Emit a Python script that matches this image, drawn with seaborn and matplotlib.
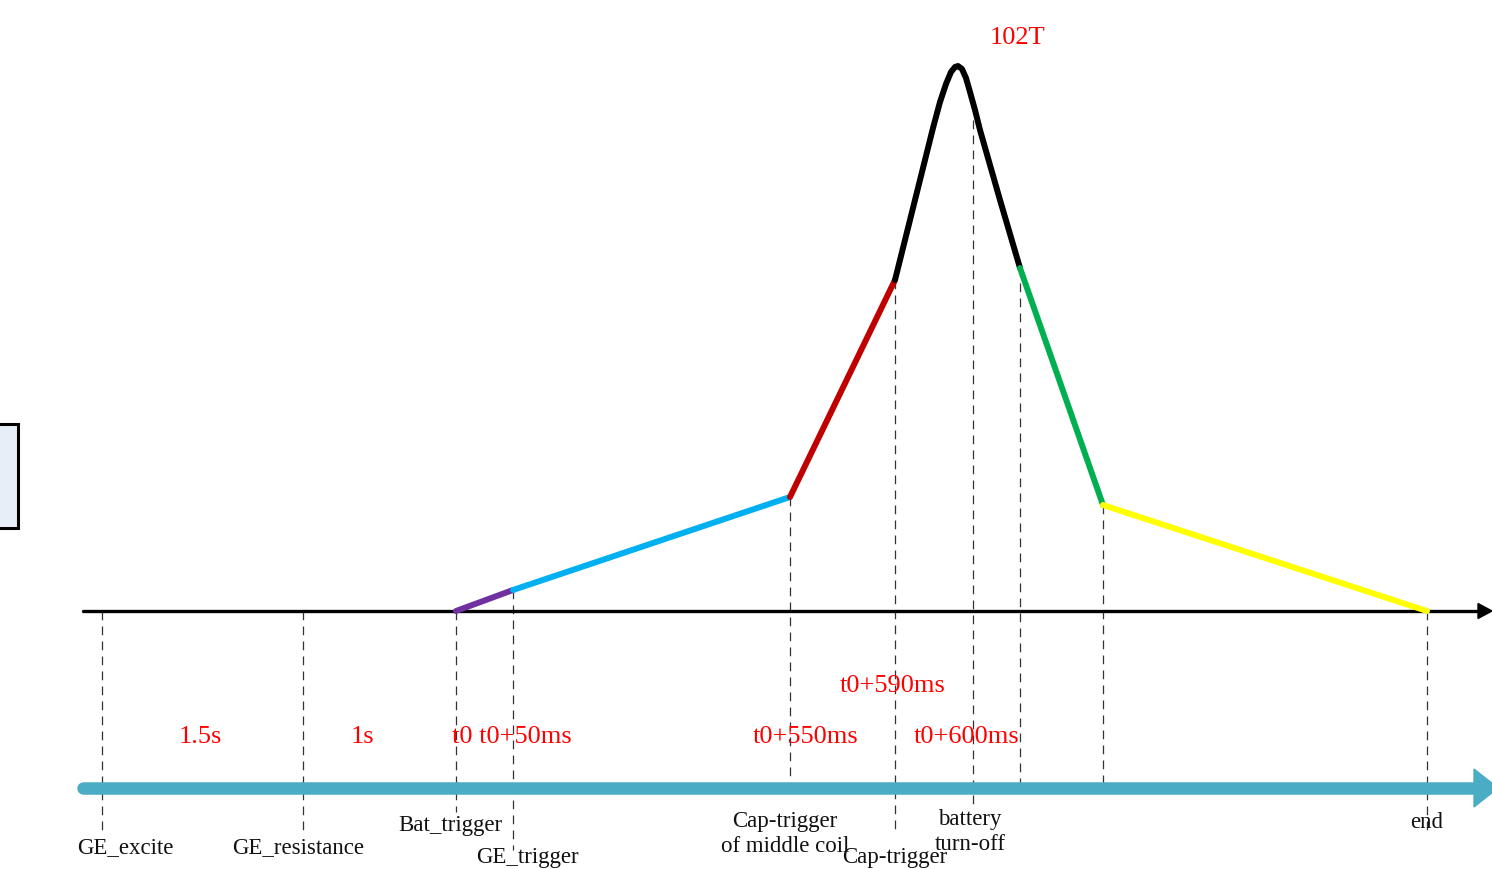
import numpy as np
import pandas as pd
import matplotlib.pyplot as plt
import seaborn as sns
from matplotlib.patches import FancyArrow, Rectangle

# schematic coordinates (canvas units, y grows downward)
baseline_y = 611
timeline_y = 788

# field curve, one list per coloured stage
seg_purple_x = [456, 513]
seg_purple_y = [611, 590]
seg_blue_x = [513, 790]
seg_blue_y = [590, 497]
seg_red_x = [790, 895]
seg_red_y = [497, 280]
seg_black_x = [895, 905, 915, 925, 933, 940, 946, 951, 955, 958, 962, 966, 970, 975,
               980, 990, 1000, 1010, 1020]
seg_black_y = [280, 240, 200, 160, 128, 102, 84, 72, 67, 66, 69, 78, 92, 110,
               130, 165, 200, 234, 268]
seg_green_x = [1020, 1103]
seg_green_y = [268, 505]
seg_yellow_x = [1103, 1427]
seg_yellow_y = [505, 611]

# dashed event markers: x, top, bottom
marker_x = [102, 303, 456, 513, 790, 895, 973, 1020, 1103, 1427]
marker_top = [611, 611, 611, 590, 497, 280, 120, 268, 505, 611]
marker_bottom = [830, 830, 812, 850, 780, 835, 805, 790, 790, 830]

# red time labels
time_labels = ['102T', '1.5s', '1s', 't0 t0+50ms', 't0+550ms', 't0+590ms', 't0+600ms']
time_label_x = [1018, 200, 362, 512, 806, 893, 967]
time_label_y = [38, 737, 737, 737, 737, 686, 737]

# black event names
event_labels = ['GE_excite', 'GE_resistance', 'Bat_trigger', 'GE_trigger',
                'Cap-trigger\nof middle coil', 'Cap-trigger', 'battery\nturn-off', 'end']
event_label_x = [125, 298, 450, 527, 785, 895, 970, 1427]
event_label_y = [848, 848, 825, 858, 834, 857, 832, 822]

stage_colors = {'purple': '#7030A0', 'blue': '#00B0F0', 'red': '#C00000',
                'black': '#000000', 'green': '#00B050', 'yellow': '#FFFF00'}

frames = []
for name, xs, ys in [('purple', seg_purple_x, seg_purple_y), ('blue', seg_blue_x, seg_blue_y),
                     ('red', seg_red_x, seg_red_y), ('black', seg_black_x, seg_black_y),
                     ('green', seg_green_x, seg_green_y), ('yellow', seg_yellow_x, seg_yellow_y)]:
    frames.append(pd.DataFrame({'x': xs, 'y': ys, 'stage': name}))
curve = pd.concat(frames, ignore_index=True)

sns.set_style('white')
plt.rcParams['font.family'] = ['Liberation Serif', 'DejaVu Serif']

fig = plt.figure(figsize=(14.92, 8.69), dpi=100)
ax = fig.add_axes([0, 0, 1, 1])
ax.set_xlim(0, 1492)
ax.set_ylim(869, 0)
ax.axis('off')

# left box (partly off canvas)
ax.add_patch(Rectangle((-20, 424), 38, 104, facecolor='#E8EEF8', edgecolor='black', lw=2.2, zorder=1))

# dashed markers
for x, t, b in zip(marker_x, marker_top, marker_bottom):
    ax.plot([x, x], [t, b], color='#333333', lw=0.9, dashes=(7, 5), zorder=2)

# baseline axis with arrow
ax.plot([83, 1480], [baseline_y, baseline_y], color='black', lw=2.4, solid_capstyle='round', zorder=3)
ax.add_patch(FancyArrow(1478, baseline_y, 14, 0, width=0, head_width=15, head_length=14,
                        length_includes_head=True, color='black', zorder=3))

# timeline arrow
ax.plot([83, 1476], [timeline_y, timeline_y], color='#4BACC6', lw=9, solid_capstyle='round', zorder=2)
ax.add_patch(FancyArrow(1474, timeline_y, 24, 0, width=0, head_width=38, head_length=24,
                        length_includes_head=True, color='#4BACC6', zorder=2))

# field curve
sns.lineplot(data=curve, x='x', y='y', hue='stage', palette=stage_colors, sort=False,
             estimator=None, lw=4.3, legend=False, ax=ax, zorder=4,
             solid_capstyle='round', solid_joinstyle='round')

for txt, x, y in zip(time_labels, time_label_x, time_label_y):
    ax.text(x, y, txt, color='red', fontsize=19, ha='center', va='center', zorder=5)

for txt, x, y in zip(event_labels, event_label_x, event_label_y):
    ax.text(x, y, txt, color='#111111', fontsize=16.5, ha='center', va='center',
            linespacing=1.25, zorder=5)

fig.savefig('out.png', dpi=100)
